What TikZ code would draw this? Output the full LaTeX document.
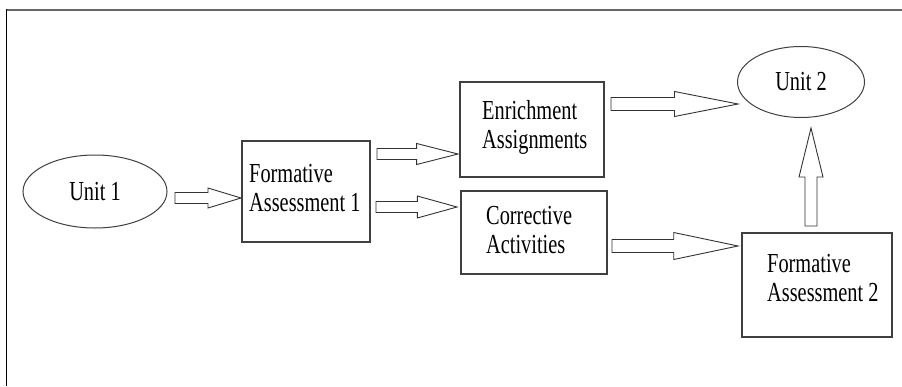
\documentclass[tikz,border=0pt]{standalone}
\usepackage{fontspec}
\setmainfont{Liberation Serif}[FakeStretch=0.74]
\usetikzlibrary{shapes.geometric,calc}
\tikzset{
  boxnode/.style={draw=black!75,line width=1.2pt,rectangle,inner sep=0pt},
  ovalnode/.style={draw=black!75,line width=1pt,ellipse,inner sep=0pt,font=\fontsize{27.5}{29}\selectfont},
  txt/.style={inner sep=0pt,align=left,anchor=west,font=\fontsize{27.5}{29}\selectfont},
  barrow/.style={draw=black!80,line width=0.9pt,fill=white,line join=miter},
}
\newcommand\blockarrow[5]{%
  \path (#1) -- (#2) coordinate[pos=#5] (hb);
  \draw[barrow] ($(#1)!#3!90:(#2)$) -- ($(hb)!#3!90:(#2)$) -- ($(hb)!#4!90:(#2)$) -- (#2)
    -- ($(hb)!#4!-90:(#2)$) -- ($(hb)!#3!-90:(#2)$) -- ($(#1)!#3!-90:(#2)$) -- cycle;}
\begin{document}
\begin{tikzpicture}[x=1pt,y=-1pt]
\useasboundingbox (0,0) rectangle (902,386);
\fill[white] (0,0) rectangle (902,386);
% frame lines
\draw[black!60,line width=2pt] (6,10) -- (902,10);
\draw[black,line width=1.6pt] (6.5,9) -- (6.5,386);

% nodes
\node[ovalnode,minimum width=144pt,minimum height=73pt] (u1) at (95,191.5) {Unit 1};
\node[ovalnode,minimum width=127pt,minimum height=71pt] (u2) at (801,82) {Unit 2};
\node[boxnode,minimum width=128pt,minimum height=101pt] (fa1) at (306,191.5) {};
\node[boxnode,minimum width=144pt,minimum height=95pt] (enr) at (532,129.5) {};
\node[boxnode,minimum width=146pt,minimum height=83pt] (cor) at (534,232.5) {};
\node[boxnode,minimum width=150pt,minimum height=104pt] (fa2) at (817,285) {};

\node[txt] (fa1t) at (249,188) {Formative\\Assessment 1};
\node[txt] (enrt) at (482,127.5) {Enrichment\\Assignments};
\node[txt] (cort) at (486,230.5) {Corrective\\Activities};
\node[txt] (fa2t) at (767,278) {Formative\\Assessment 2};

% connector end points
\coordinate (a1s) at (175,198);  \coordinate (a1e) at (241,198);
\coordinate (a2s) at (377,154);  \coordinate (a2e) at (458,154);
\coordinate (a3s) at (376,207);  \coordinate (a3e) at (457,207);
\coordinate (a4s) at (611,104);  \coordinate (a4e) at (738,104);
\coordinate (a5s) at (612,246);  \coordinate (a5e) at (738,246);
\coordinate (a6s) at (811,226);  \coordinate (a6e) at (811,128);

\blockarrow{a1s}{a1e}{5.5pt}{10pt}{0.5}
\blockarrow{a2s}{a2e}{5.5pt}{10.5pt}{0.49}
\blockarrow{a3s}{a3e}{5.5pt}{11pt}{0.51}
\blockarrow{a4s}{a4e}{6.5pt}{12.5pt}{0.5}
\blockarrow{a5s}{a5e}{6.5pt}{13.5pt}{0.49}
\blockarrow{a6s}{a6e}{6pt}{12pt}{0.5}
\end{tikzpicture}
\end{document}
